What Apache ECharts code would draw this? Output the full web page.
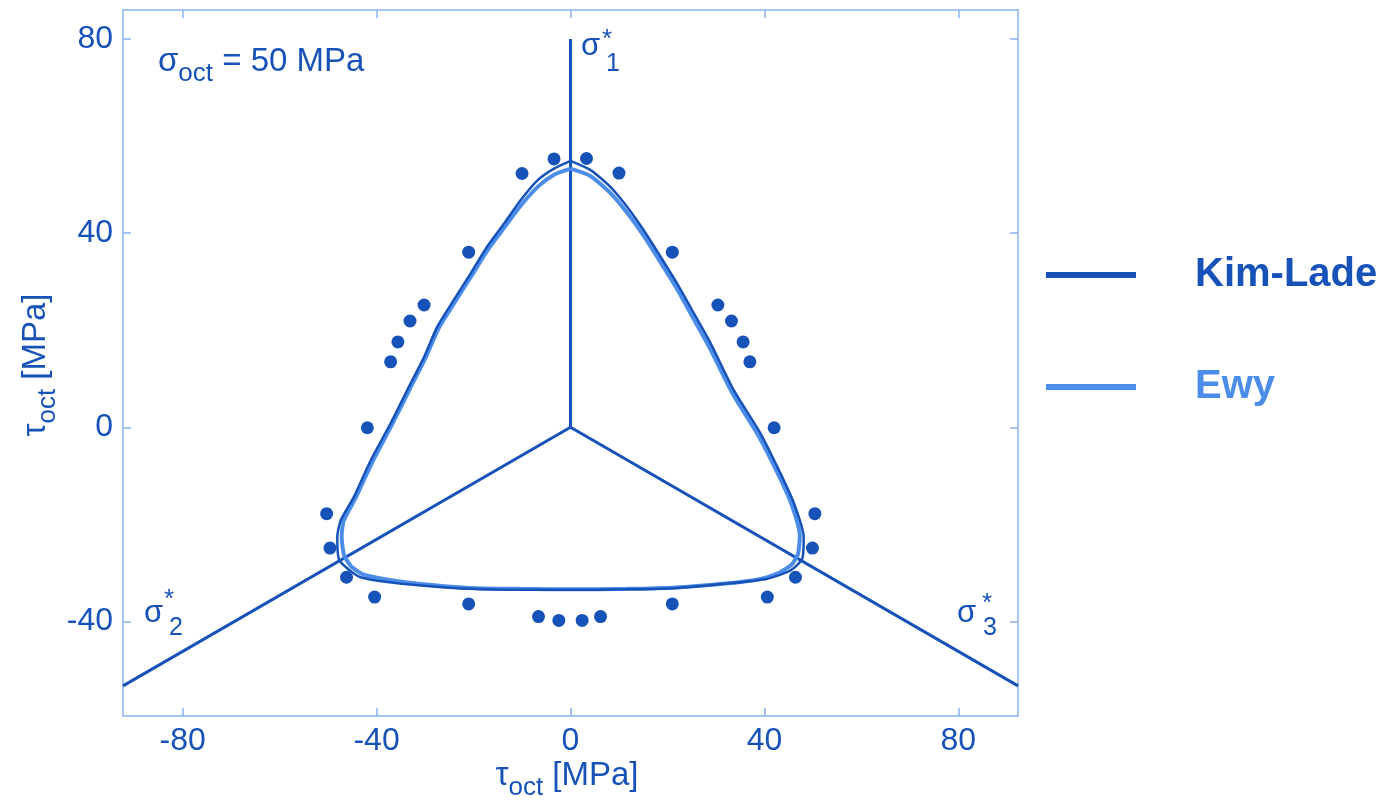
<!DOCTYPE html>
<html>
<head>
<meta charset="UTF-8">
<title>octahedral plane</title>
<style>
  html, body { margin: 0; padding: 0; background: #fff; }
  #main { width: 1400px; height: 801px; }
</style>
</head>
<body>
<div id="main"></div>
<script src="https://cdn.jsdelivr.net/npm/echarts@6/dist/echarts.min.js"></script>
<script>
// tick values
var xTicks = [-80, -40, 0, 40, 80];
var yTicks = [-40, 0, 40, 80];

// Kim-Lade failure curve, sigma_oct = 50 MPa (tau_oct x / y, MPa)
var kimLade = [
  [0, 54.9], [4.15, 53.0], [8.27, 49.5], [11.7, 45.4], [15.1, 40.6], [18.6, 35.1],
  [22.0, 29.6], [25.5, 23.4], [28.9, 17.3], [33.7, 7.6], [39.2, -1.3], [43.3, -9.5],
  [46.1, -15.7], [48.1, -22.6], [47.8, -27.1], [45.4, -29.5], [40.6, -31.2], [32.3, -32.2],
  [22.0, -33.1], [11.7, -33.4], [0, -33.5], [-10.3, -33.5], [-20.6, -33.3], [-30.9, -32.6],
  [-37.8, -31.9], [-43.3, -30.9], [-46.0, -29.1], [-47.8, -27.1], [-48.1, -22.6], [-47.4, -19.2],
  [-44.7, -14.4], [-41.2, -6.8], [-37.1, 0.8], [-33.0, 9.0], [-30.2, 14.5], [-27.5, 20.7],
  [-24.1, 26.2], [-20.6, 31.7], [-17.2, 37.2], [-13.7, 42.0], [-10.3, 46.8], [-6.8, 50.9],
  [-3.4, 53.3], [0, 54.9]
];

// Ewy failure curve
var ewy = [
  [0, 53.3], [4.1, 51.8], [8.2, 48.3], [11.6, 44.3], [15.0, 39.6], [18.4, 34.3],
  [21.8, 28.8], [25.2, 22.7], [28.6, 16.6], [33.4, 7.0], [38.8, -1.8], [42.9, -9.8],
  [45.6, -15.9], [47.3, -22.4], [46.9, -26.2], [45.6, -28.3], [43.0, -30.0], [39.0, -31.3],
  [32.0, -32.2], [21.8, -33.0], [11.6, -33.3], [0, -33.4], [-10.3, -33.3], [-20.6, -33.1],
  [-30.9, -32.3], [-37.6, -31.4], [-42.8, -30.3], [-45.3, -28.6], [-46.7, -26.4], [-47.2, -22.5],
  [-46.8, -19.3], [-44.3, -14.5], [-40.8, -7.0], [-36.8, 0.6], [-32.7, 8.8], [-29.9, 14.3],
  [-27.2, 20.4], [-23.8, 25.9], [-20.3, 31.4], [-16.9, 36.8], [-13.4, 41.5], [-10.0, 46.0],
  [-6.6, 49.7], [-3.3, 52.1], [0, 53.3]
];

// measured failure points
var testPoints = [
  [-10.0, 52.3], [-3.4, 55.3], [3.3, 55.4], [10.0, 52.4],
  [-21.0, 36.1], [21.0, 36.1],
  [-30.2, 25.2], [-33.1, 21.9], [-35.6, 17.6], [-37.1, 13.5],
  [30.4, 25.2], [33.2, 21.9], [35.6, 17.6], [37.0, 13.5],
  [-41.9, -0.1], [42.0, -0.1],
  [-50.3, -17.8], [-49.6, -24.9], [-46.2, -30.9], [-40.4, -35.0], [-21.0, -36.4],
  [50.4, -17.8], [49.9, -24.9], [46.4, -30.9], [40.6, -35.0], [21.0, -36.4],
  [-6.6, -39.0], [-2.4, -39.8], [2.4, -39.8], [6.2, -39.0]
];

// principal stress projections
var ray1 = [[0, 0], [0, 80]];
var ray2 = [[0, 0], [-92.3, -53.3]];
var ray3 = [[0, 0], [92.3, -53.3]];

var dark = '#1652b8';
var light = '#4b8de9';
var axisCol = '#8bb3f0';
var font = 'Liberation Sans, Arial, sans-serif';

var chart = echarts.init(document.getElementById('main'));

function boxAxis(pos, min, max, ticks, labels) {
  return {
    type: 'value',
    position: pos,
    min: min,
    max: max,
    splitLine: { show: false },
    axisLine: { show: true, onZero: false, lineStyle: { color: axisCol, width: 1.5 } },
    axisTick: { show: true, inside: true, length: 8, customValues: ticks, lineStyle: { color: axisCol, width: 1.5 } },
    axisLabel: {
      show: labels, customValues: ticks, color: dark, fontSize: 32, fontFamily: font,
      margin: pos === 'bottom' ? 9 : 10
    }
  };
}

function rayLine(d) {
  return {
    type: 'line', data: d, symbol: 'none', silent: true,
    lineStyle: { color: dark, width: 3 }, z: 3
  };
}

var mainSt = { fontSize: 33, lineHeight: 33, verticalAlign: 'top', fontFamily: font, fill: dark };
var subSt = { fontSize: 26, lineHeight: 26, padding: [15, 0, 0, 0], verticalAlign: 'top', fontFamily: font, fill: dark };

function piece(txt, x, y, size) {
  return {
    type: 'text', x: x, y: y, z: 10,
    style: { text: txt, fontSize: size, fontFamily: font, fill: dark, align: 'left', verticalAlign: 'middle' }
  };
}

chart.setOption({
  animation: false,
  backgroundColor: '#fff',
  grid: { left: 123, top: 10, width: 895, height: 706 },
  xAxis: [
    boxAxis('bottom', -92.3, 92.3, xTicks, true),
    boxAxis('top', -92.3, 92.3, xTicks, false)
  ],
  yAxis: [
    boxAxis('left', -59.5, 86, yTicks, true),
    boxAxis('right', -59.5, 86, yTicks, false)
  ],
  legend: {
    orient: 'vertical',
    left: 1041,
    top: 250,
    itemWidth: 90,
    itemHeight: 6,
    itemGap: 72,
    icon: 'rect',
    textStyle: { fontSize: 40, fontWeight: 'bold', fontFamily: font, padding: [0, 0, 0, 54] },
    data: [
      { name: 'Kim-Lade', textStyle: { color: dark } },
      { name: 'Ewy', textStyle: { color: light } }
    ]
  },
  series: [
    rayLine(ray1),
    rayLine(ray2),
    rayLine(ray3),
    {
      name: 'Ewy', type: 'line', data: ewy, symbol: 'none', z: 4, smooth: 0.2,
      itemStyle: { color: light },
      lineStyle: { color: light, width: 4 }
    },
    {
      name: 'Kim-Lade', type: 'line', data: kimLade, symbol: 'none', z: 5, smooth: 0.2,
      itemStyle: { color: dark },
      lineStyle: { color: dark, width: 2.5 }
    },
    {
      name: 'Test data', type: 'scatter', data: testPoints, symbolSize: 13, z: 6,
      itemStyle: { color: dark, opacity: 1 }
    }
  ],
  graphic: [
    {
      type: 'text', x: 567, y: 776, z: 10,
      style: {
        text: '{m|τ}{s|oct}{m| [MPa]}', align: 'center', verticalAlign: 'middle',
        rich: { m: mainSt, s: subSt }
      }
    },
    {
      type: 'text', x: 36, y: 365, rotation: Math.PI / 2, z: 10,
      style: {
        text: '{m|τ}{s|oct}{m| [MPa]}', align: 'center', verticalAlign: 'middle',
        rich: { m: mainSt, s: subSt }
      }
    },
    {
      type: 'text', x: 158, y: 62, z: 10,
      style: {
        text: '{m|σ}{s|oct}{m| = 50 MPa}', align: 'left', verticalAlign: 'middle',
        rich: { m: mainSt, s: subSt }
      }
    },
    piece('σ', 581, 46, 31), piece('*', 602, 40, 26), piece('1', 606, 64, 25),
    piece('σ', 144, 613, 31), piece('*', 164, 600, 26), piece('2', 169, 628, 25),
    piece('σ', 957, 613, 31), piece('*', 982, 604, 26), piece('3', 983, 628, 25)
  ]
});
</script>
</body>
</html>
